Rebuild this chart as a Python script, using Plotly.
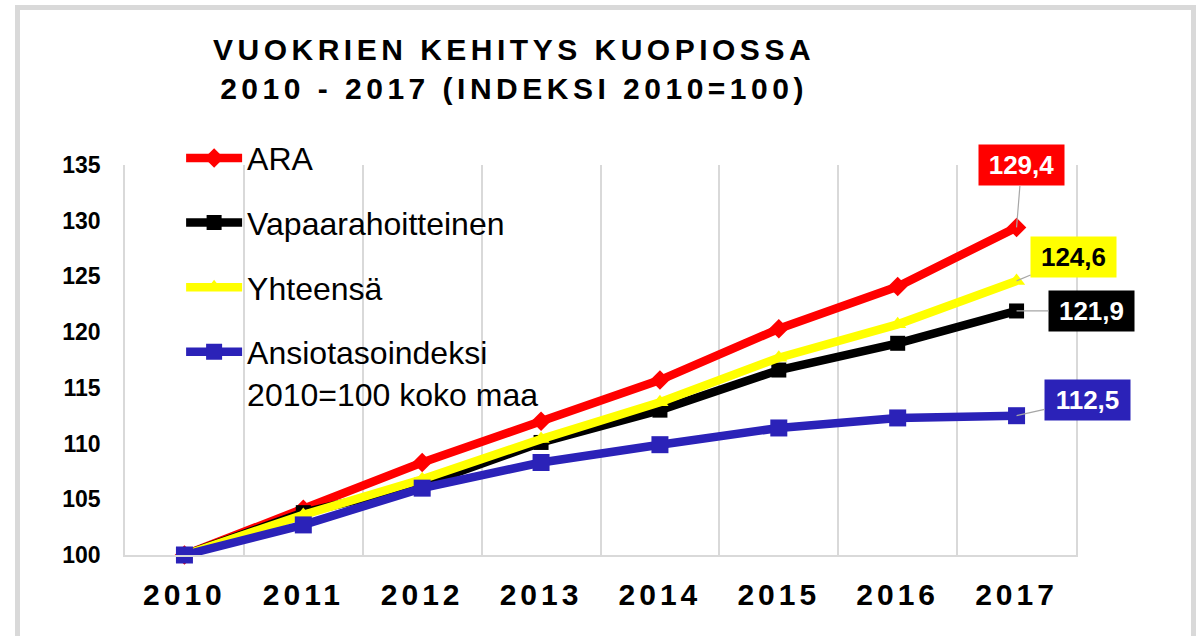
import plotly.graph_objects as go

years = ["2010", "2011", "2012", "2013", "2014", "2015", "2016", "2017"]
ara = [100, 104.1, 108.3, 112.0, 115.7, 120.3, 124.1, 129.4]
vapaa = [100, 103.8, 106.3, 110.1, 113.0, 116.6, 119.0, 121.9]
yhteensa = [100, 103.6, 106.8, 110.4, 113.7, 117.7, 120.7, 124.6]
ansio = [100, 102.7, 106.0, 108.3, 109.9, 111.4, 112.3, 112.5]

names = ["ARA", "Vapaarahoitteinen", "Yhteensä", "Ansiotasoindeksi<br>2010=100 koko maa"]
series = [ara, vapaa, yhteensa, ansio]
colors = ["#ff0000", "#000000", "#ffff00", "#2b22b8"]
symbols = ["diamond", "square", "triangle-up", "square"]
msizes = [15, 15, 15, 17]
label_font_colors = ["#ffffff", "#ffffff", "#000000", "#ffffff"]
label_offsets = [(5, -62), (75, 0), (57, -24), (71, -16)]

FONT = "Liberation Sans, Arial, sans-serif"

fig = go.Figure()
for i, (nm, vals) in enumerate(zip(names, series)):
    fig.add_trace(go.Scatter(
        x=years, y=vals, name=nm, mode="lines+markers",
        line=dict(color=colors[i], width=8.5),
        marker=dict(symbol=symbols[i], size=msizes[i], color=colors[i]),
        legendgroup=str(i), cliponaxis=False,
    ))

annotations = []
last = len(years) - 1
for i, vals in enumerate(series):
    ax, ay = label_offsets[i]
    annotations.append(dict(
        x=last, y=vals[-1], xref="x", yref="y",
        text="<b>" + f"{vals[-1]:.1f}".replace(".", ",") + "</b>",
        showarrow=True, arrowhead=0, arrowwidth=1.2, arrowcolor="#a6a6a6",
        ax=ax, ay=ay, axref="pixel", ayref="pixel", standoff=0,
        bgcolor=colors[i], width=83, height=38,
        font=dict(family=FONT, size=26, color=label_font_colors[i]),
    ))

fig.update_layout(
    width=1201, height=636,
    margin=dict(l=125, r=125, t=165, b=81),
    paper_bgcolor="white", plot_bgcolor="white",
    font=dict(family=FONT, color="black"),
    title=dict(
        text="<b>VUOKRIEN KEHITYS KUOPIOSSA<br>2010 - 2017 (INDEKSI 2010=100)</b>",
        x=0.428, xref="container", xanchor="center",
        y=0.905, yref="container", yanchor="top",
        font=dict(family=FONT, size=30, color="black"),
    ),
    xaxis=dict(
        type="category", tickson="boundaries",
        showgrid=True, gridcolor="#d9d9d9", gridwidth=1.5,
        showline=True, linecolor="#d9d9d9", linewidth=2,
        ticks="", ticklabelstandoff=12,
        tickfont=dict(family=FONT, size=30, color="black", weight="bold"),
        range=[-0.5, 7.5], fixedrange=True,
    ),
    yaxis=dict(
        range=[100, 135], dtick=5, tick0=100,
        showgrid=False, zeroline=False,
        showline=True, mirror=True, linecolor="#d9d9d9", linewidth=1.5,
        ticks="", ticklabelstandoff=18,
        tickfont=dict(family=FONT, size=23, color="black", weight="bold"),
    ),
    legend=dict(
        x=0.059, y=1.088, xanchor="left", yanchor="top",
        xref="paper", yref="paper",
        font=dict(family=FONT, size=32, color="black"),
        bgcolor="rgba(0,0,0,0)", itemwidth=56,
        traceorder="grouped", tracegroupgap=20, valign="top",
    ),
    annotations=annotations,
    shapes=[dict(
        type="rect", xref="paper", yref="paper",
        x0=(17.5 - 125) / 951, x1=(1193.5 - 125) / 951,
        y0=(555 - 660) / 390, y1=(555 - 7.5) / 390,
        line=dict(color="#d9d9d9", width=5), fillcolor="rgba(0,0,0,0)",
        layer="below",
    )],
    showlegend=True,
)

post = """
var gd = document.getElementsByClassName('plotly-graph-div')[0];
function ls(){
  gd.querySelectorAll('.gtitle').forEach(function(e){e.style.letterSpacing='4.5px';});
  gd.querySelectorAll('.xtick text').forEach(function(e){e.style.letterSpacing='4px';});
}
ls();
gd.on('plotly_afterplot', ls);
"""

fig.write_html("out.html", post_script=post)
